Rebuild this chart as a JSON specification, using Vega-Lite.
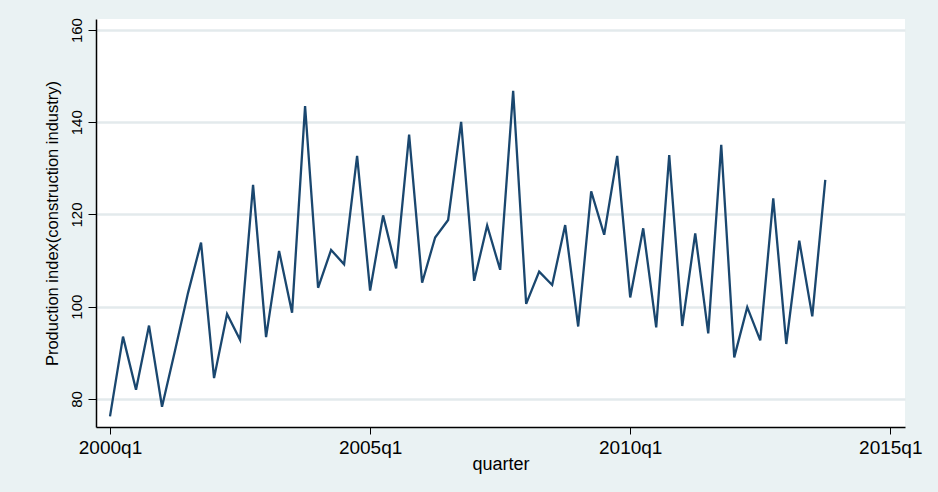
{
  "$schema": "https://vega.github.io/schema/vega-lite/v6.json",
  "autosize": {"type": "none"},
  "padding": {"left": 96, "top": 19, "right": 33, "bottom": 65},
  "width": 809,
  "height": 408,
  "background": "#eaf2f3",
  "config": {
    "view": {"stroke": null, "fill": "white"},
    "font": "Liberation Sans"
  },
  "data": {
    "values": [
      {"t": 0, "quarter": "2000q1", "index": 76.2},
      {"t": 1, "quarter": "2000q2", "index": 93.5},
      {"t": 2, "quarter": "2000q3", "index": 82.0},
      {"t": 3, "quarter": "2000q4", "index": 95.9},
      {"t": 4, "quarter": "2001q1", "index": 78.3},
      {"t": 5, "quarter": "2001q2", "index": 90.5},
      {"t": 6, "quarter": "2001q3", "index": 103.0},
      {"t": 7, "quarter": "2001q4", "index": 113.9},
      {"t": 8, "quarter": "2002q1", "index": 84.5},
      {"t": 9, "quarter": "2002q2", "index": 98.4},
      {"t": 10, "quarter": "2002q3", "index": 92.8},
      {"t": 11, "quarter": "2002q4", "index": 126.4},
      {"t": 12, "quarter": "2003q1", "index": 93.4},
      {"t": 13, "quarter": "2003q2", "index": 112.1},
      {"t": 14, "quarter": "2003q3", "index": 98.7},
      {"t": 15, "quarter": "2003q4", "index": 143.5},
      {"t": 16, "quarter": "2004q1", "index": 104.1},
      {"t": 17, "quarter": "2004q2", "index": 112.3},
      {"t": 18, "quarter": "2004q3", "index": 109.2},
      {"t": 19, "quarter": "2004q4", "index": 132.7},
      {"t": 20, "quarter": "2005q1", "index": 103.5},
      {"t": 21, "quarter": "2005q2", "index": 119.8},
      {"t": 22, "quarter": "2005q3", "index": 108.3},
      {"t": 23, "quarter": "2005q4", "index": 137.3},
      {"t": 24, "quarter": "2006q1", "index": 105.2},
      {"t": 25, "quarter": "2006q2", "index": 115.0},
      {"t": 26, "quarter": "2006q3", "index": 118.8},
      {"t": 27, "quarter": "2006q4", "index": 140.1},
      {"t": 28, "quarter": "2007q1", "index": 105.6},
      {"t": 29, "quarter": "2007q2", "index": 117.6},
      {"t": 30, "quarter": "2007q3", "index": 108.0},
      {"t": 31, "quarter": "2007q4", "index": 146.8},
      {"t": 32, "quarter": "2008q1", "index": 100.6},
      {"t": 33, "quarter": "2008q2", "index": 107.6},
      {"t": 34, "quarter": "2008q3", "index": 104.7},
      {"t": 35, "quarter": "2008q4", "index": 117.7},
      {"t": 36, "quarter": "2009q1", "index": 95.7},
      {"t": 37, "quarter": "2009q2", "index": 125.0},
      {"t": 38, "quarter": "2009q3", "index": 115.6},
      {"t": 39, "quarter": "2009q4", "index": 132.7},
      {"t": 40, "quarter": "2010q1", "index": 102.0},
      {"t": 41, "quarter": "2010q2", "index": 117.0},
      {"t": 42, "quarter": "2010q3", "index": 95.5},
      {"t": 43, "quarter": "2010q4", "index": 132.9},
      {"t": 44, "quarter": "2011q1", "index": 95.8},
      {"t": 45, "quarter": "2011q2", "index": 115.9},
      {"t": 46, "quarter": "2011q3", "index": 94.2},
      {"t": 47, "quarter": "2011q4", "index": 135.1},
      {"t": 48, "quarter": "2012q1", "index": 89.0},
      {"t": 49, "quarter": "2012q2", "index": 99.9},
      {"t": 50, "quarter": "2012q3", "index": 92.7},
      {"t": 51, "quarter": "2012q4", "index": 123.5},
      {"t": 52, "quarter": "2013q1", "index": 91.9},
      {"t": 53, "quarter": "2013q2", "index": 114.3},
      {"t": 54, "quarter": "2013q3", "index": 97.9},
      {"t": 55, "quarter": "2013q4", "index": 127.5}
    ]
  },
  "mark": {"type": "line", "color": "#1a476f", "strokeWidth": 2.3},
  "encoding": {
    "x": {
      "field": "t",
      "type": "quantitative",
      "scale": {"domain": [-1.077, 61.13], "nice": false, "zero": false},
      "axis": {
        "title": "quarter",
        "values": [0, 20, 40, 60],
        "labelExpr": "(2000 + datum.value / 4) + 'q1'",
        "grid": false,
        "domainColor": "black",
        "domainWidth": 1.5,
        "tickColor": "black",
        "tickWidth": 1,
        "tickSize": 7,
        "labelFontSize": 19,
        "labelColor": "black",
        "labelPadding": 4,
        "labelFlush": false,
        "titleFontSize": 18,
        "titleFontWeight": "normal",
        "titleColor": "black",
        "titlePadding": -2
      }
    },
    "y": {
      "field": "index",
      "type": "quantitative",
      "scale": {"domain": [73.9, 162.4], "nice": false, "zero": false},
      "axis": {
        "title": "Production index(construction industry)",
        "values": [80, 100, 120, 140, 160],
        "grid": true,
        "gridColor": "#e3eaec",
        "gridWidth": 2.5,
        "domainColor": "black",
        "domainWidth": 1.5,
        "tickColor": "black",
        "tickWidth": 1,
        "tickSize": 8,
        "labelAngle": -90,
        "labelAlign": "center",
        "labelBaseline": "bottom",
        "labelFontSize": 15,
        "labelColor": "black",
        "labelPadding": 4,
        "titleFontSize": 16.5,
        "titleFontWeight": "normal",
        "titleColor": "black",
        "titlePadding": 9
      }
    }
  }
}
